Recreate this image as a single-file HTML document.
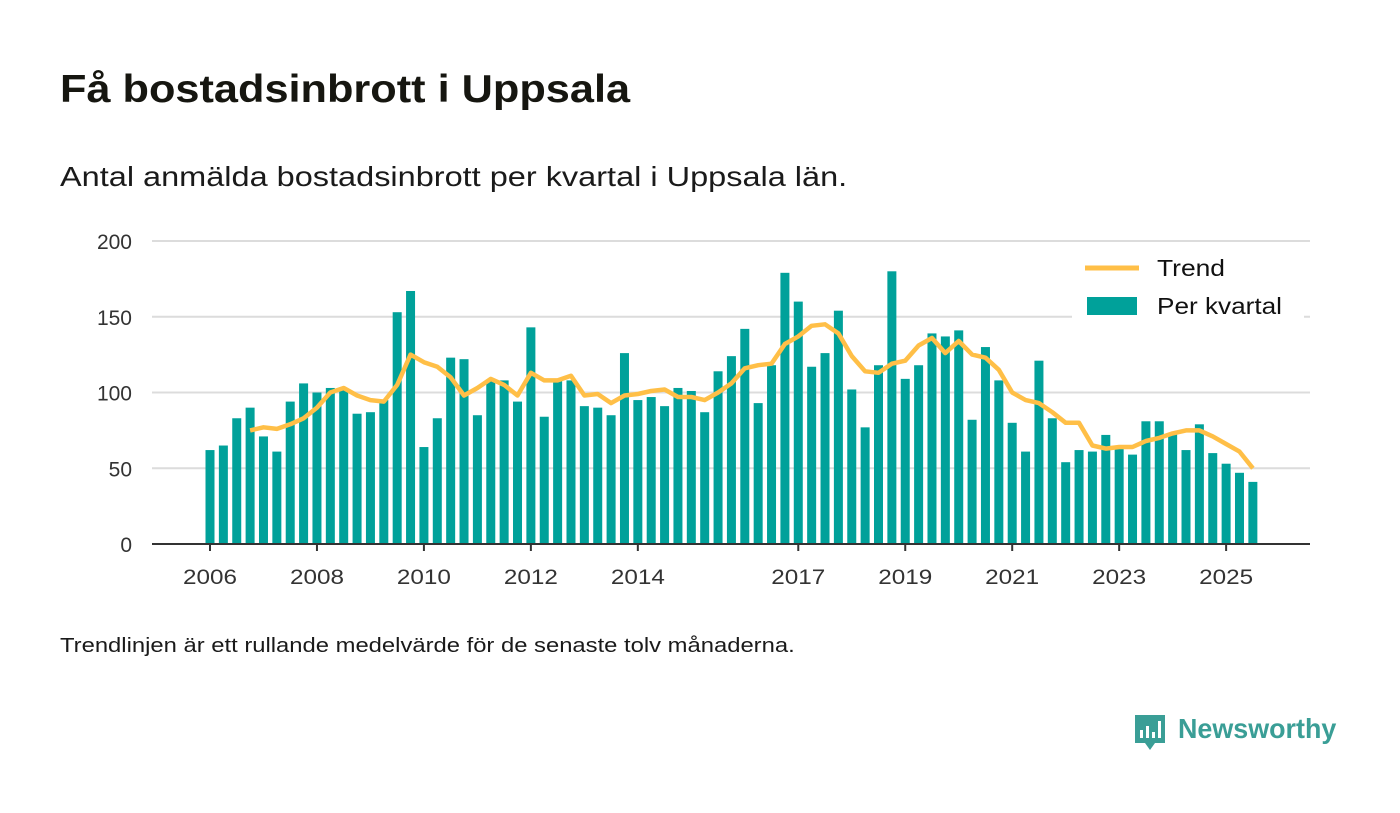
<!DOCTYPE html>
<html><head><meta charset="utf-8"><style>
body{margin:0;width:1400px;height:813px;background:#fff;font-family:"Liberation Sans",sans-serif;color:#111;overflow:hidden;position:relative}
.t{position:absolute;white-space:nowrap;transform-origin:0 0}
</style></head><body>
<div class="t" style="left:60px;top:68px;font-size:39px;font-weight:bold;color:#161610;transform:scaleX(1.11)">Få bostadsinbrott i Uppsala</div>
<div class="t" style="left:60px;top:161px;font-size:28px;color:#1a1a1a;transform:scaleX(1.16)">Antal anmälda bostadsinbrott per kvartal i Uppsala län.</div>
<svg id="chart" width="1400" height="813" style="position:absolute;left:0;top:0"></svg>
<div class="t" style="left:60px;top:635px;font-size:20px;color:#1a1a1a;transform:scaleX(1.19)">Trendlinjen är ett rullande medelvärde för de senaste tolv månaderna.</div>
<div style="position:absolute;left:1133px;top:713px;width:210px;height:42px">
<svg width="34" height="40" style="position:absolute;left:0;top:0"><path d="M2 2h30v28h-10l-5 7-5-7H2z" fill="#3a9e96"/><rect x="7" y="17" width="3" height="8" fill="#fff"/><rect x="13" y="13" width="3" height="12" fill="#fff"/><rect x="19" y="19" width="3" height="6" fill="#fff"/><rect x="25" y="8" width="3" height="17" fill="#fff"/></svg>
<div class="t" style="left:45px;top:0px;font-size:28px;font-weight:bold;color:#3a9e96;transform:scaleX(0.96)">Newsworthy</div></div>
<script>
const startYear = 2006;
const barValues = [62,65,83,90, 71,61,94,106, 100,103,103,86, 87,95,153,167, 64,83,123,122, 85,108,108,94, 143,84,108,108, 91,90,85,126, 95,97,91,103, 101,87,114,124, 142,93,118,179, 160,117,126,154, 102,77,118,180, 109,118,139,137, 141,82,130,108, 80,61,121,83, 54,62,61,72, 63,59,81,81, 73,62,79,60, 53,47,41];
const trendStart = 3;
const trendValues = [75,77,76,79,83,90,100,103,98,95,94,105,125,120,117,110,98,103,109,105,98,113,108,108,111,98,99,93,98,99,101,102,97,97,95,100,106,116,118,119,132,137,144,145,139,124,114,113,119,121,131,136,126,134,125,123,115,100,95,93,87,80,80,65,63,64,64,68,70,73,75,75,71,66,61,50];
const yTicks = [0,50,100,150,200];
const xTickYears = [2006,2008,2010,2012,2014,2017,2019,2021,2023,2025];
const NS="http://www.w3.org/2000/svg";
const svg=document.getElementById('chart');
const x0=210, q=13.37, y0=544, ys=303/200;
const X=i=>x0+i*q, Y=v=>y0-v*ys;
function mk(t,a){const e=document.createElementNS(NS,t);for(const k in a)e.setAttribute(k,a[k]);svg.appendChild(e);return e;}
yTicks.forEach(v=>{
  if(v>0){const g=mk('line',{x1:152,x2:1310,y1:Y(v),y2:Y(v),stroke:'#dcdcdc','stroke-width':2});
  
  }
  const t=mk('text',{x:132,y:Y(v)+8,'text-anchor':'end','font-size':21,fill:'#333','font-family':'Liberation Sans, sans-serif'});
  t.textContent=v;
  
  
});
barValues.forEach((v,i)=>{
  const r=mk('rect',{x:X(i)-4.5,y:Y(v),width:9,height:v*ys,fill:'#00a19a'});
  
  
});
const ax=mk('line',{x1:152,x2:1310,y1:y0,y2:y0,stroke:'#333','stroke-width':2});


xTickYears.forEach(yr=>{
  const x=X((yr-startYear)*4);
  const tk=mk('line',{x1:x,x2:x,y1:y0,y2:y0+7,stroke:'#333','stroke-width':2});
  
  
  const t=mk('text',{x:x,y:584,'text-anchor':'middle','font-size':21,fill:'#333','font-family':'Liberation Sans, sans-serif',textLength:54,lengthAdjust:'spacingAndGlyphs'});
  t.textContent=yr;
  
  
});
const pts=trendValues.map((v,i)=>X(i+trendStart).toFixed(1)+','+Y(v).toFixed(1)).join(' ');
const pl=mk('polyline',{points:pts,fill:'none',stroke:'#ffbf47','stroke-width':4.5,'stroke-linejoin':'round'});


const lb=mk('rect',{x:1072,y:250,width:232,height:70,fill:'#fff'});


const l1=mk('line',{x1:1085,x2:1139,y1:268,y2:268,stroke:'#ffbf47','stroke-width':5});


const t1=mk('text',{x:1157,y:276,'font-size':23,fill:'#111','font-family':'Liberation Sans, sans-serif',textLength:68,lengthAdjust:'spacingAndGlyphs'});
t1.textContent='Trend';


const r2=mk('rect',{x:1087,y:297,width:50,height:18,fill:'#00a19a'});


const t2=mk('text',{x:1157,y:314,'font-size':23,fill:'#111','font-family':'Liberation Sans, sans-serif',textLength:125,lengthAdjust:'spacingAndGlyphs'});
t2.textContent='Per kvartal';


</script>
</body></html>
